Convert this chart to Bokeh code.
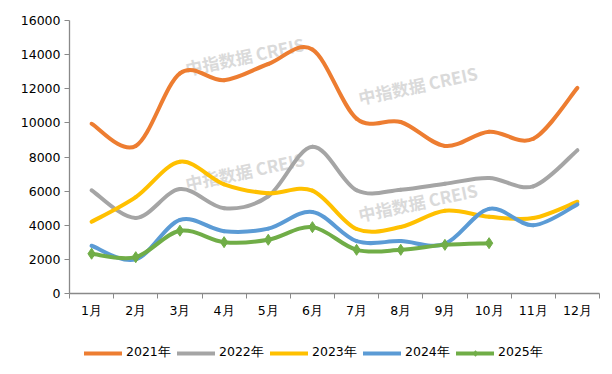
from bokeh.plotting import figure
from bokeh.models import FixedTicker, Range1d, Legend, LegendItem, Label
from bokeh.layouts import column
from bokeh.embed import file_html
from bokeh.resources import INLINE

months = ["1月", "2月", "3月", "4月", "5月", "6月", "7月", "8月", "9月", "10月", "11月", "12月"]
years = ["2021年", "2022年", "2023年", "2024年", "2025年"]
y2021 = [9950, 8650, 12900, 12500, 13450, 14300, 10250, 10050, 8650, 9480, 9070, 12050]
y2022 = [6050, 4430, 6120, 5000, 5700, 8600, 6050, 6080, 6430, 6770, 6280, 8400]
y2023 = [4200, 5650, 7720, 6400, 5880, 6030, 3780, 3900, 4850, 4500, 4420, 5380]
y2024 = [2800, 2000, 4310, 3650, 3800, 4780, 3070, 3070, 2910, 4960, 4000, 5220]
y2025 = [2330, 2130, 3680, 3010, 3150, 3890, 2560, 2560, 2850, 2950]
colors = ["#ED7D31", "#A5A5A5", "#FFC000", "#5B9BD5", "#70AD47"]
yticks = [0, 2000, 4000, 6000, 8000, 10000, 12000, 14000, 16000]

FONT = "DejaVu Sans"
FS = "12.5px"
WMFONT = "Noto Sans CJK SC"
W = 604

p = figure(width=W, height=323, output_backend="svg", toolbar_location=None,
           x_range=Range1d(0, 12), y_range=Range1d(0, 16000),
           min_border_left=69, min_border_right=5, min_border_top=20, min_border_bottom=30)
p.outline_line_color = None
p.grid.visible = False
p.background_fill_color = "white"
p.border_fill_color = "white"

# watermarks (positions of the text start, in canvas pixels)
wm_positions = [(185, 68), (185, 183), (358, 97), (358, 214)]
for rx, ry in wm_positions:
    p.add_layout(Label(x=rx - 69, y=293 - ry, x_units="screen", y_units="screen",
                       text="中指数据 CREIS", text_font=WMFONT, text_font_size="17px",
                       text_font_style="bold", text_color="#DADADA",
                       text_align="left", text_baseline="middle",
                       angle=12, angle_units="deg", level="underlay"))

def bez(ys):
    xs = [i + 0.5 for i in range(len(ys))]
    n = len(ys)
    out = dict(x0=[], y0=[], x1=[], y1=[], cx0=[], cy0=[], cx1=[], cy1=[])
    for i in range(n - 1):
        pm = i - 1 if i > 0 else i
        pp = i + 2 if i + 2 < n else i + 1
        out["x0"].append(xs[i]); out["y0"].append(ys[i])
        out["x1"].append(xs[i + 1]); out["y1"].append(ys[i + 1])
        out["cx0"].append(xs[i] + (xs[i + 1] - xs[pm]) / 6)
        out["cy0"].append(ys[i] + (ys[i + 1] - ys[pm]) / 6)
        out["cx1"].append(xs[i + 1] - (xs[pp] - xs[i]) / 6)
        out["cy1"].append(ys[i + 1] - (ys[pp] - ys[i]) / 6)
    return out

all_series = [y2021, y2022, y2023, y2024, y2025]
for ys, c, name in zip(all_series, colors, years):
    p.bezier(source=bez(ys), x0="x0", y0="y0", x1="x1", y1="y1",
             cx0="cx0", cy0="cy0", cx1="cx1", cy1="cy1",
             line_color=c, line_width=4, line_cap="round")
    if name == "2025年":
        p.scatter(x=[i + 0.5 for i in range(len(ys))], y=ys, marker="diamond",
                  size=11, fill_color=c, line_color=c)

# x axis
xa = p.xaxis[0]
xa.ticker = FixedTicker(ticks=[i + 0.5 for i in range(12)], minor_ticks=list(range(13)))
xa.major_label_overrides = {i + 0.5: m for i, m in enumerate(months)}
xa.major_tick_line_color = None
xa.minor_tick_line_color = "#898989"
xa.minor_tick_out = 5
xa.minor_tick_in = 0
xa.axis_line_color = "#898989"
xa.axis_line_width = 1.3
xa.major_label_standoff = 3
xa.major_label_text_font = FONT
xa.major_label_text_font_size = FS
xa.major_label_text_color = "black"

ya = p.yaxis[0]
ya.ticker = FixedTicker(ticks=yticks)
ya.major_tick_out = 5
ya.major_tick_in = 0
ya.minor_tick_line_color = None
ya.major_tick_line_color = "#898989"
ya.axis_line_color = "#898989"
ya.axis_line_width = 1.3
ya.major_label_standoff = 4
ya.major_label_text_font = FONT
ya.major_label_text_font_size = FS
ya.major_label_text_color = "black"

# legend strip below the chart
q = figure(width=W, height=51, output_backend="svg", toolbar_location=None,
           x_range=Range1d(0, 1), y_range=Range1d(0, 1),
           x_axis_type=None, y_axis_type=None, min_border=0)
q.outline_line_color = None
q.grid.visible = False
q.background_fill_color = "white"
q.border_fill_color = "white"

NAN = float("nan")
items = []
for c, name in zip(colors, years):
    rends = [q.line(x=[NAN], y=[NAN], line_color=c, line_width=4, line_cap="round")]
    if name == "2025年":
        rends.append(q.scatter(x=[NAN], y=[NAN], marker="diamond", size=9,
                               fill_color=c, line_color=c))
    items.append(LegendItem(label=name, renderers=rends))

legend = Legend(items=items, orientation="horizontal", location=(15, 13),
                label_text_font=FONT, label_text_font_size=FS, label_text_color="black",
                glyph_width=38, glyph_height=14, label_standoff=4, label_width=48, spacing=3,
                padding=2, margin=0, border_line_color=None, background_fill_alpha=0)
q.add_layout(legend)

layout = column(p, q, spacing=0)
open("out.html", "w").write(file_html(layout, INLINE))
